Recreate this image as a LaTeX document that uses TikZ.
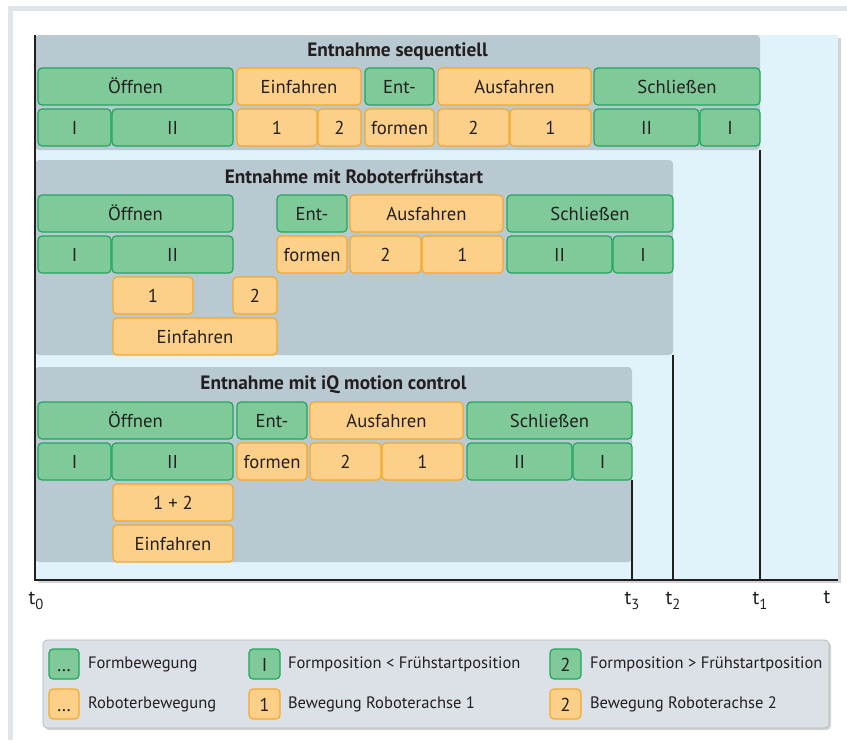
\documentclass[tikz,border=0pt]{standalone}
\usepackage{fontspec}
\setmainfont{PT Sans}
\usetikzlibrary{shadows}

\definecolor{formfill}{RGB}{128,202,154}
\definecolor{formline}{RGB}{30,166,92}
\definecolor{robofill}{RGB}{253,208,138}
\definecolor{roboline}{RGB}{246,168,40}
\definecolor{groupgrey}{RGB}{185,201,209}
\definecolor{chartblue}{RGB}{224,242,250}
\definecolor{legendgrey}{RGB}{219,225,231}
\definecolor{framegrey}{RGB}{222,228,234}
\definecolor{ink}{RGB}{35,31,32}

% segment: style, x1, y1, x2, y2, name, text (pixel coordinates)
\newcommand\seg[7]{%
  \node[#1, minimum width={(#4-#2)*0.75pt}, minimum height={(#5-#3)*0.75pt}]
    (#6) at ({(#2+#4)/2},{(#3+#5)/2}) {#7};}
% time label with index
\newcommand\tlab[1]{t\raisebox{-.55ex}{\fontsize{11}{12}\selectfont #1}}

\begin{document}
\begin{tikzpicture}[x=0.75pt,y=-0.75pt,
  every node/.style={text=ink, inner sep=0pt, outer sep=0pt},
  base/.style={draw, line width=0.9pt, rounded corners=3pt,
    font=\fontsize{14}{16}\selectfont, text height=1.05em, text depth=0pt},
  form/.style={base, fill=formfill, draw=formline},
  robo/.style={base, fill=robofill, draw=roboline},
  group/.style={fill=groupgrey, rounded corners=3pt},
  title/.style={font=\fontsize{14.5}{16}\selectfont\bfseries},
  tick/.style={font=\fontsize{15}{17}\selectfont},
  legtext/.style={anchor=west, font=\fontsize{12.4}{14}\selectfont},
  axis/.style={line width=1.5pt, draw=ink},
  tline/.style={line width=0.8pt, draw=ink}]
\useasboundingbox (0,0) rectangle (847,740);

% frame and chart area
\draw[framegrey, line width=4pt] (10.5,740) -- (10.5,8.5) -- (847,8.5);
\fill[chartblue, drop shadow={shadow xshift=2pt, shadow yshift=-2pt, opacity=.35}]
  (35,35) rectangle (838,580);

% groups
\node[group, minimum width={725*0.75pt}, minimum height={115*0.75pt}] (G1) at (397.5,92.5) {};
\node[group, minimum width={638*0.75pt}, minimum height={195*0.75pt}] (G2) at (354,257.5) {};
\node[group, minimum width={597*0.75pt}, minimum height={195*0.75pt}] (G3) at (333.5,464.5) {};
\node[title] (T1) at (397.5,52) {Entnahme sequentiell};
\node[title] (T2) at (354,177) {Entnahme mit Roboterfrühstart};
\node[title] (T3) at (333.5,385) {Entnahme mit iQ motion control};

% Entnahme sequentiell
\seg{form}{38}{68}{233}{105}{a1}{Öffnen}
\seg{robo}{237}{68}{361}{105}{a2}{Einfahren}
\seg{form}{365}{68}{434}{105}{a3}{Ent-}
\seg{robo}{438}{68}{591}{105}{a4}{Ausfahren}
\seg{form}{594}{68}{760}{105}{a5}{Schließen}
\seg{form}{38}{109}{111}{146}{a6}{I}
\seg{form}{112}{109}{233}{146}{a7}{II}
\seg{robo}{237}{109}{317}{146}{a8}{1}
\seg{robo}{318}{109}{361}{146}{a9}{2}
\seg{robo}{365}{109}{434}{146}{a10}{formen}
\seg{robo}{438}{109}{509}{146}{a11}{2}
\seg{robo}{510}{109}{591}{146}{a12}{1}
\seg{form}{594}{109}{699}{146}{a13}{II}
\seg{form}{700}{109}{760}{146}{a14}{I}

% Entnahme mit Roboterfruehstart
\seg{form}{38}{195}{233}{232}{b1}{Öffnen}
\seg{form}{277}{195}{347}{232}{b2}{Ent-}
\seg{robo}{350}{195}{503}{232}{b3}{Ausfahren}
\seg{form}{507}{195}{673}{232}{b4}{Schließen}
\seg{form}{38}{236}{111}{273}{b5}{I}
\seg{form}{112}{236}{233}{273}{b6}{II}
\seg{robo}{277}{236}{347}{273}{b7}{formen}
\seg{robo}{350}{236}{421}{273}{b8}{2}
\seg{robo}{422}{236}{503}{273}{b9}{1}
\seg{form}{507}{236}{612}{273}{b10}{II}
\seg{form}{613}{236}{673}{273}{b11}{I}
\seg{robo}{113}{277}{193}{314}{b12}{1}
\seg{robo}{233}{277}{277}{314}{b13}{2}
\seg{robo}{113}{318}{277}{355}{b14}{Einfahren}

% Entnahme mit iQ motion control
\seg{form}{38}{402}{233}{439}{c1}{Öffnen}
\seg{form}{237}{402}{307}{439}{c2}{Ent-}
\seg{robo}{310}{402}{463}{439}{c3}{Ausfahren}
\seg{form}{467}{402}{632}{439}{c4}{Schließen}
\seg{form}{38}{443}{111}{480}{c5}{I}
\seg{form}{112}{443}{233}{480}{c6}{II}
\seg{robo}{237}{443}{307}{480}{c7}{formen}
\seg{robo}{310}{443}{381}{480}{c8}{2}
\seg{robo}{382}{443}{463}{480}{c9}{1}
\seg{form}{467}{443}{572}{480}{c10}{II}
\seg{form}{573}{443}{632}{480}{c11}{I}
\seg{robo}{113}{484}{233}{521}{c12}{1 + 2}
\seg{robo}{113}{525}{233}{562}{c13}{Einfahren}

% time axis
\coordinate (top) at (35,35);
\coordinate (t0) at (35,580);
\coordinate (tend) at (838,580);
\coordinate (t1) at (760,580);
\coordinate (t2) at (673,580);
\coordinate (t3) at (632,580);
\draw[tline] (G1.south east) -- (t1);
\draw[tline] (G2.south east) -- (t2);
\draw[tline] (c11.south east) -- (t3);
\draw[axis] (top) -- (t0) -- (tend);
\node[tick] (lt0) at (36,601) {\tlab{0}};
\node[tick] (lt3) at (632,601) {\tlab{3}};
\node[tick] (lt2) at (673,601) {\tlab{2}};
\node[tick] (lt1) at (760,601) {\tlab{1}};
\node[tick] (lt) at (827,597) {t};

% legend
\fill[legendgrey, draw=gray!60, rounded corners=3pt,
  drop shadow={shadow xshift=1.5pt, shadow yshift=-1.5pt, opacity=.35}]
  (43,640) rectangle (829,728);
\seg{form}{49}{649}{79}{679}{l1}{…}
\seg{robo}{49}{689}{79}{719}{l2}{…}
\seg{form}{249}{649}{280}{679}{l3}{I}
\seg{robo}{249}{689}{280}{719}{l4}{1}
\seg{form}{550}{649}{581}{679}{l5}{2}
\seg{robo}{550}{689}{581}{719}{l6}{2}
\node[legtext] (lt1a) at (88,664) {Formbewegung};
\node[legtext] (lt2a) at (88,704) {Roboterbewegung};
\node[legtext] (lt3a) at (288,664) {Formposition < Frühstartposition};
\node[legtext] (lt4a) at (288,704) {Bewegung Roboterachse 1};
\node[legtext] (lt5a) at (590,664) {Formposition > Frühstartposition};
\node[legtext] (lt6a) at (590,704) {Bewegung Roboterachse 2};
\end{tikzpicture}
\end{document}
